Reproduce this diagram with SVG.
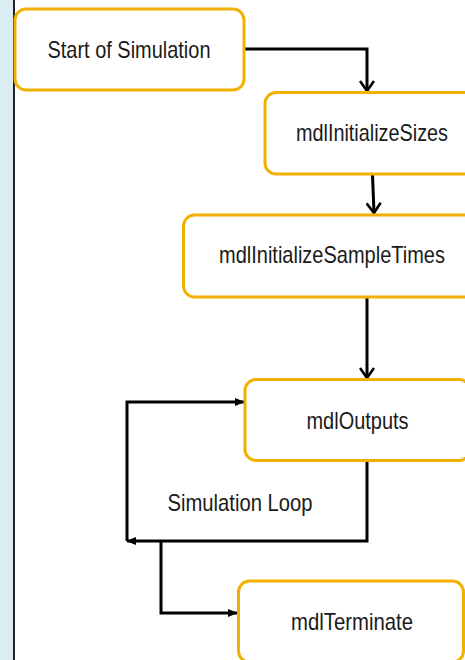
<svg xmlns="http://www.w3.org/2000/svg" width="465" height="660" viewBox="0 0 465 660">
<style>
.box{fill:#fff;stroke:#f2b000;stroke-width:3}
.lbl{font-family:"Liberation Sans",Arial,sans-serif;font-size:24px;fill:#1a1a1a}
.con{fill:none;stroke:#000;stroke-width:3;stroke-linejoin:miter}
</style>
<defs>
<marker id="chev" markerUnits="userSpaceOnUse" viewBox="0 0 12 16" refX="11" refY="8" markerWidth="12" markerHeight="16" orient="auto">
<path d="M1,1 L11,8 L1,15" fill="none" stroke="#000" stroke-width="2.6"/>
</marker>
<marker id="tri" markerUnits="userSpaceOnUse" viewBox="0 0 10 10" refX="9" refY="5" markerWidth="10" markerHeight="10" orient="auto">
<path d="M0,1 L10,5 L0,9 Z" fill="#000"/>
</marker>
</defs>
<rect x="0" y="0" width="14" height="660" fill="#dbedf3"/>
<rect x="13" y="0" width="2" height="660" fill="#222"/>
<g id="connectors">
<path class="con" d="M244,49 H367 V91" marker-end="url(#chev)"/>
<path class="con" d="M372.5,175 L374,213" marker-end="url(#chev)"/>
<path class="con" d="M367,298 V378" marker-end="url(#chev)"/>
<path class="con" d="M367,462 V541 H127" marker-end="url(#tri)"/>
<path class="con" d="M127,541 V402 H244" marker-end="url(#tri)"/>
<path class="con" d="M161,541 V613 H237" marker-end="url(#tri)"/>
</g>
<g id="start">
<rect class="box" x="15" y="9" width="229" height="81" rx="11"/>
<text class="lbl" x="47.5" y="58" textLength="163" lengthAdjust="spacingAndGlyphs">Start of Simulation</text>
</g>
<g id="sizes">
<rect class="box" x="265" y="92.5" width="214" height="81.5" rx="11"/>
<text class="lbl" x="296" y="141" textLength="152" lengthAdjust="spacingAndGlyphs">mdlInitializeSizes</text>
</g>
<g id="sampletimes">
<rect class="box" x="183.5" y="215" width="297" height="82" rx="11"/>
<text class="lbl" x="219" y="263" textLength="226" lengthAdjust="spacingAndGlyphs">mdlInitializeSampleTimes</text>
</g>
<g id="outputs">
<rect class="box" x="245" y="379.5" width="225" height="81" rx="11"/>
<text class="lbl" x="306.5" y="428.5" textLength="102" lengthAdjust="spacingAndGlyphs">mdlOutputs</text>
</g>
<g id="loop-label">
<text class="lbl" x="167.5" y="510.5" textLength="145" lengthAdjust="spacingAndGlyphs">Simulation Loop</text>
</g>
<g id="terminate">
<rect class="box" x="238.5" y="581" width="225" height="81" rx="11"/>
<text class="lbl" x="291" y="629.5" textLength="122" lengthAdjust="spacingAndGlyphs">mdlTerminate</text>
</g>
</svg>
